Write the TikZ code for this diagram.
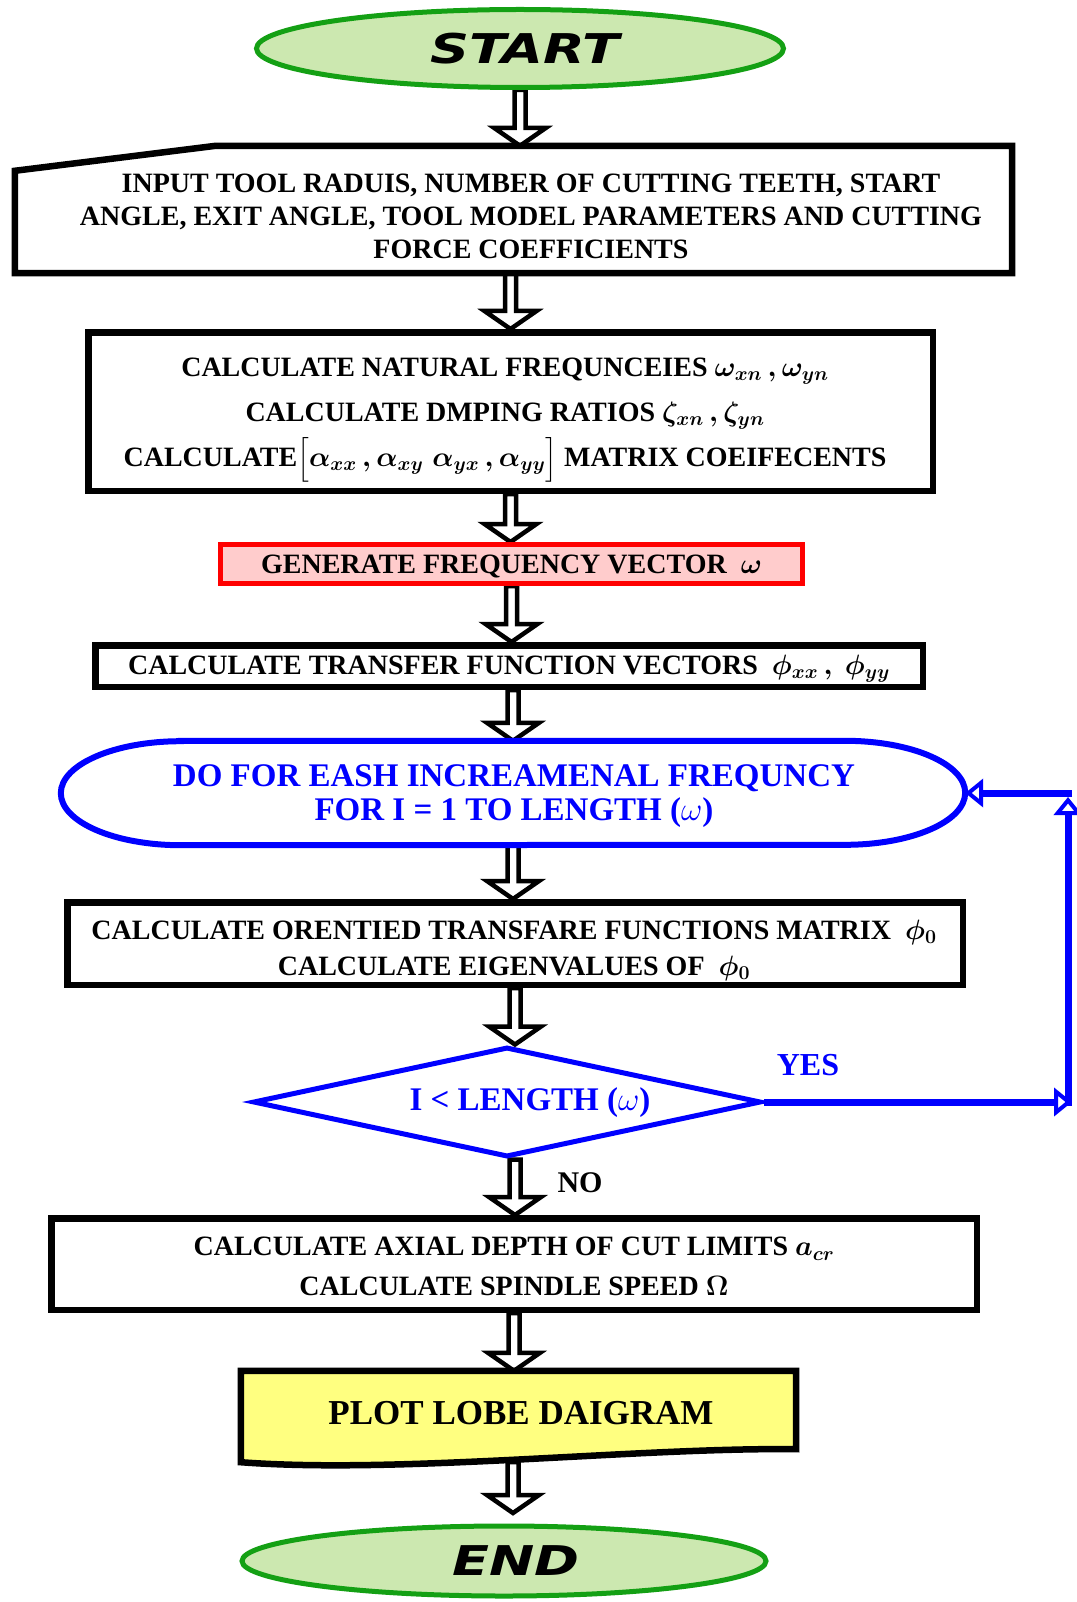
\RequirePackage{fix-cm}
\documentclass[tikz,border=0pt]{standalone}
\usepackage{fontspec}
\setmainfont{Liberation Serif}
\newfontfamily\termfont{DejaVu Sans}
\usepackage{amsmath}
\usepackage{graphicx}
\usetikzlibrary{shapes.geometric,calc,arrows.meta,backgrounds}

\definecolor{termfill}{RGB}{204,232,176}
\definecolor{termline}{RGB}{20,160,20}
\definecolor{genfill}{RGB}{255,204,204}
\definecolor{plotfill}{RGB}{255,255,128}
\definecolor{loopblue}{RGB}{0,0,255}

% bold serif text of the process boxes, with a chosen line distance
\newcommand\bodyfont[1]{\fontsize{28}{#1}\selectfont\bfseries\boldmath}

% hollow block arrow from #1 to #2
\newcommand\flowarrow[2]{%
  \path (#1) coordinate (fas) (#2) coordinate (fae);
  \path ($(fae)!18pt!(fas)$) coordinate (fah);
  \draw[blockarrow]
    ($(fas)!5.5pt!90:(fae)$) -- ($(fah)!5.5pt!90:(fae)$) --
    ($(fah)!26pt!90:(fae)$) -- (fae) -- ($(fah)!26pt!-90:(fae)$) --
    ($(fah)!5.5pt!-90:(fae)$) -- ($(fas)!5.5pt!-90:(fae)$) -- cycle;}

\begin{document}
\begin{tikzpicture}[x=1pt,y=-1pt,
  boxline/.style={draw=black, line width=6.5pt, fill=white, line join=miter},
  box/.style={boxline, rectangle, inner sep=0pt, align=center},
  term/.style={ellipse, draw=termline, fill=termfill, line width=5pt, inner sep=0pt,
    font=\termfont\fontsize{41}{41}\selectfont\bfseries\itshape},
  blockarrow/.style={draw=black, fill=white, line width=4.5pt, line join=miter},
  loopline/.style={draw=loopblue, line width=7pt,
    -{Triangle[length=18pt,width=28pt,line width=4pt,fill=white]}},
  bluetext/.style={text=loopblue, align=center,
    font=\fontsize{33}{34}\selectfont\bfseries}]

\useasboundingbox (0,0) rectangle (1076,1602);

% terminals
\node[term, minimum width=527pt, minimum height=78pt] (start) at (520,48.5)
  {\hspace*{10pt}\scalebox{1.32}[1]{START}};
\node[term, minimum width=524pt, minimum height=70pt] (end) at (504,1561)
  {\hspace*{24pt}\scalebox{1.32}[1]{END}};

% manual input
\node[inner sep=0pt, minimum width=997pt, minimum height=127pt] (input) at (513.5,209.5) {};
\draw[boxline] (input.south west) -- ($(input.north west)+(0,25)$)
  -- ($(input.north west)+(201,0)$) -- (input.north east) -- (input.south east) -- cycle;
\node[align=center, font=\bodyfont{33}] (inputtext) at (531,216)
  {INPUT TOOL RADUIS, NUMBER OF CUTTING TEETH, START\\
   ANGLE, EXIT ANGLE, TOOL MODEL PARAMETERS AND CUTTING\\
   FORCE COEFFICIENTS};

% processes
\node[box, minimum width=844.5pt, minimum height=158.5pt] (natfreq) at (510.5,411.5) {};
\node[align=center, font=\bodyfont{45}] (natfreqtext) at (505,420)
  {CALCULATE NATURAL FREQUNCEIES $\omega_{xn}\,,\omega_{yn}$\\
   CALCULATE DMPING RATIOS $\zeta_{xn}\,,\zeta_{yn}$\\
   CALCULATE$\bigl[\alpha_{xx}\,,\alpha_{xy}\;\alpha_{yx}\,,\alpha_{yy}\bigr]$ MATRIX COEIFECENTS};

\node[box, draw=red, fill=genfill, line width=5pt, minimum width=582pt, minimum height=39pt,
  font=\bodyfont{33}] (genvec) at (511.5,564)
  {\rule{0pt}{24pt}GENERATE FREQUENCY VECTOR\ \ $\omega$};

\node[box, minimum width=827.5pt, minimum height=41.5pt, font=\bodyfont{33}] (transfer) at (509,666)
  {\rule{0pt}{24pt}CALCULATE TRANSFER FUNCTION VECTORS\ \ $\phi_{xx}\,,\ \phi_{yy}$};

% loop head
\node[inner sep=0pt, minimum width=904pt, minimum height=104pt] (loop) at (513,793) {};
\draw[draw=loopblue, line width=6pt, fill=white]
  ($(loop.north west)+(120,0)$) -- ($(loop.north east)+(-120,0)$)
  arc[start angle=90, end angle=-90, x radius=120pt, y radius=52pt]
  -- ($(loop.south west)+(120,0)$)
  arc[start angle=-90, end angle=-270, x radius=120pt, y radius=52pt] -- cycle;
\node[bluetext] (looptext) at (514,796)
  {DO FOR EASH INCREAMENAL FREQUNCY\\FOR I = 1 TO LENGTH ($\omega$)};

\node[box, minimum width=895.5pt, minimum height=82.5pt] (oriented) at (515,943.5) {};
\node[align=center, font=\bodyfont{36}] (orientedtext) at (514,950)
  {CALCULATE ORENTIED TRANSFARE FUNCTIONS MATRIX\ \ $\phi_0$\\
   CALCULATE EIGENVALUES OF\ \ $\phi_0$};

% decision
\node[diamond, draw=loopblue, line width=5pt, fill=white, inner sep=0pt,
  minimum width=508pt, minimum height=110pt] (check) at (507,1102) {};
\node[bluetext] (checktext) at (530,1103) {I < LENGTH ($\omega$)};

\node[box, minimum width=925.5pt, minimum height=91.5pt, font=\bodyfont{40}] (axial) at (514,1264)
  {\rule{0pt}{24pt}CALCULATE AXIAL DEPTH OF CUT LIMITS $a_{cr}$\\
   CALCULATE SPINDLE SPEED $\Omega$};

% output document
\node[inner sep=0pt, minimum width=555pt, minimum height=91pt] (plot) at (518.5,1416.5) {};
\draw[boxline, fill=plotfill] (plot.north west) -- (plot.north east)
  -- ($(plot.south east)+(0,-13)$)
  .. controls ($(plot.south east)+(-156,-15)$) and ($(plot.south west)+(159,12)$) .. (plot.south west)
  -- cycle;
\node[font=\fontsize{35}{35}\selectfont\bfseries] (plottext) at (521,1413) {PLOT LOBE DAIGRAM};

% branch labels
\node[text=loopblue, font=\fontsize{32}{32}\selectfont\bfseries] (yes) at (808,1065) {YES};
\node[font=\fontsize{30}{30}\selectfont\bfseries] (no) at (580,1183) {NO};

\coordinate (endin) at (513,1513);
\coordinate (rail) at (1068,793);

% main flow
\begin{pgfonlayer}{background}
  \fill[white] (0,0) rectangle (1076,1602);
  \flowarrow{start.south}{input.north -| start.south}
  \flowarrow{input.south -| natfreq.north}{natfreq.north}
  \flowarrow{natfreq.south}{genvec.north -| natfreq.south}
  \flowarrow{genvec.south}{transfer.north -| genvec.south}
  \flowarrow{transfer.south -| loop.north}{loop.north}
  \flowarrow{loop.south}{oriented.north -| loop.south}
  \flowarrow{oriented.south}{check.north -| oriented.south}
  \flowarrow{check.south -| oriented.south}{axial.north -| oriented.south}
  \flowarrow{axial.south}{plot.north -| axial.south}
  \flowarrow{plot.south -| endin}{endin}
\end{pgfonlayer}

% return path of the loop
\draw[loopline, shorten >=-4pt] (check.east) -- (rail |- check.east);
\draw[loopline, shorten <=-4pt, shorten >=4pt] (rail |- check.east) -- (rail);
\draw[loopline, shorten <=-4pt] (rail) -- (loop.east);
\end{tikzpicture}
\end{document}
